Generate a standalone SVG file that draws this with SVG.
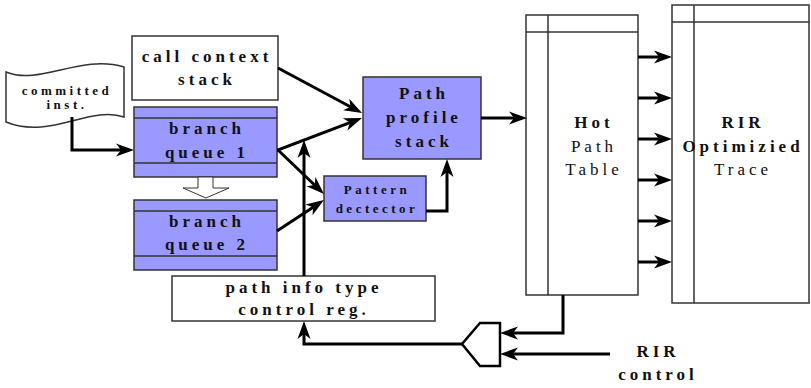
<svg xmlns="http://www.w3.org/2000/svg" width="811" height="388" viewBox="0 0 811 388">
<style>
.box{fill:#fff;stroke:#333;stroke-width:1.5}
.pb{fill:#9999ff;stroke:#333;stroke-width:1.5}
.thin{fill:none;stroke:#333;stroke-width:1.5}
.t{font-family:"Liberation Serif","Times New Roman",serif;font-weight:bold;font-size:17px;letter-spacing:4px;text-anchor:middle;fill:#111}
.n{font-weight:normal}
.s{font-size:13px;letter-spacing:3.5px}
.xs{font-size:13px;letter-spacing:3.5px}
.c{fill:none;stroke:#000;stroke-width:3;marker-end:url(#ah)}
</style>
<defs>
<marker id="ah" markerUnits="userSpaceOnUse" markerWidth="20" markerHeight="14" refX="10" refY="6.5" orient="auto" overflow="visible">
<path d="M0,0 L18,6.5 L0,13 L5,6.5 Z" fill="#000"/>
</marker>
</defs>
<g id="committed">
<path class="box" d="M6,72 C40,86 80,54 124,67 L124,117 C90,105 50,140 6,122 Z"/>
<text class="t xs" x="67" y="95">committed</text>
<text class="t xs" x="67" y="109">inst.</text>
</g>
<g id="callctx">
<rect class="box" x="132" y="36" width="146" height="64"/>
<text class="t" x="207" y="62">call context</text>
<text class="t" x="207" y="85">stack</text>
</g>
<g id="bq1">
<rect class="pb" x="134" y="107" width="143" height="70"/>
<line class="thin" x1="134" y1="118" x2="277" y2="118"/>
<line class="thin" x1="134" y1="163" x2="277" y2="163"/>
<text class="t" x="207" y="134">branch</text>
<text class="t" x="207" y="158">queue 1</text>
</g>
<g id="hollow">
<polygon points="198,177 213,177 213,188 229,188 206,198 183,188 198,188" fill="#fff" stroke="#333" stroke-width="1"/>
</g>
<g id="bq2">
<rect class="pb" x="134" y="200" width="143" height="70"/>
<line class="thin" x1="134" y1="211" x2="277" y2="211"/>
<line class="thin" x1="134" y1="256" x2="277" y2="256"/>
<text class="t" x="207" y="227">branch</text>
<text class="t" x="207" y="250">queue 2</text>
</g>
<g id="pps">
<rect class="pb" x="363" y="77" width="118" height="82"/>
<text class="t" x="424" y="99">Path</text>
<text class="t" x="424" y="123">profile</text>
<text class="t" x="424" y="147">stack</text>
</g>
<g id="pattern">
<rect class="pb" x="324" y="176" width="102" height="45"/>
<text class="t s" x="377" y="194">Pattern</text>
<text class="t s" x="377" y="213">dectector</text>
</g>
<g id="pathinfo">
<rect class="box" x="172" y="276" width="263" height="45"/>
<text class="t" x="304" y="293">path info type</text>
<text class="t" x="304" y="315">control reg.</text>
</g>
<g id="hpt">
<rect class="box" x="526" y="15" width="112" height="280" stroke-width="1.2"/>
<line class="thin" x1="548" y1="15" x2="548" y2="295" stroke-width="1.2"/>
<line class="thin" x1="526" y1="32" x2="638" y2="32" stroke-width="1.2"/>
<text class="t" x="594" y="128">Hot</text>
<text class="t n" x="594" y="152">Path</text>
<text class="t n" x="594" y="175">Table</text>
</g>
<g id="rir">
<rect class="box" x="672" y="5" width="137" height="298" stroke-width="1.2"/>
<line class="thin" x1="694" y1="5" x2="694" y2="303" stroke-width="1.2"/>
<line class="thin" x1="672" y1="22" x2="809" y2="22" stroke-width="1.2"/>
<text class="t" x="743" y="128">RIR</text>
<text class="t" x="743" y="152">Optimizied</text>
<text class="t n" x="743" y="175">Trace</text>
</g>
<g id="mux">
<polygon points="500,323 480,323 462,344 480,366 500,366" fill="#fff" stroke="#000" stroke-width="2.5"/>
</g>
<g id="rirctl">
<text class="t" x="658" y="357">RIR</text>
<text class="t" x="658" y="380">control</text>
</g>
<g id="connectors">
<path class="c" d="M72,117 V150 H126"/>
<path class="c" d="M278,68 L355,109.2"/>
<path class="c" d="M277,150 L278,150 L354.5,120.8"/>
<path class="c" d="M278,150 L318.2,188.5"/>
<path class="c" d="M277,231 L317.3,204.4"/>
<path class="c" d="M304,276 V148"/>
<path class="c" d="M426,211 H447 V167"/>
<path class="c" d="M481,118 H519"/>
<path class="c" d="M638,57 H664"/>
<path class="c" d="M638,98 H664"/>
<path class="c" d="M638,139 H664"/>
<path class="c" d="M638,180 H664"/>
<path class="c" d="M638,221 H664"/>
<path class="c" d="M638,262 H664"/>
<path class="c" d="M563,295 V333 H508"/>
<path class="c" d="M610,354 H508"/>
<path class="c" d="M462,344 H304 V329"/>
</g>
</svg>
